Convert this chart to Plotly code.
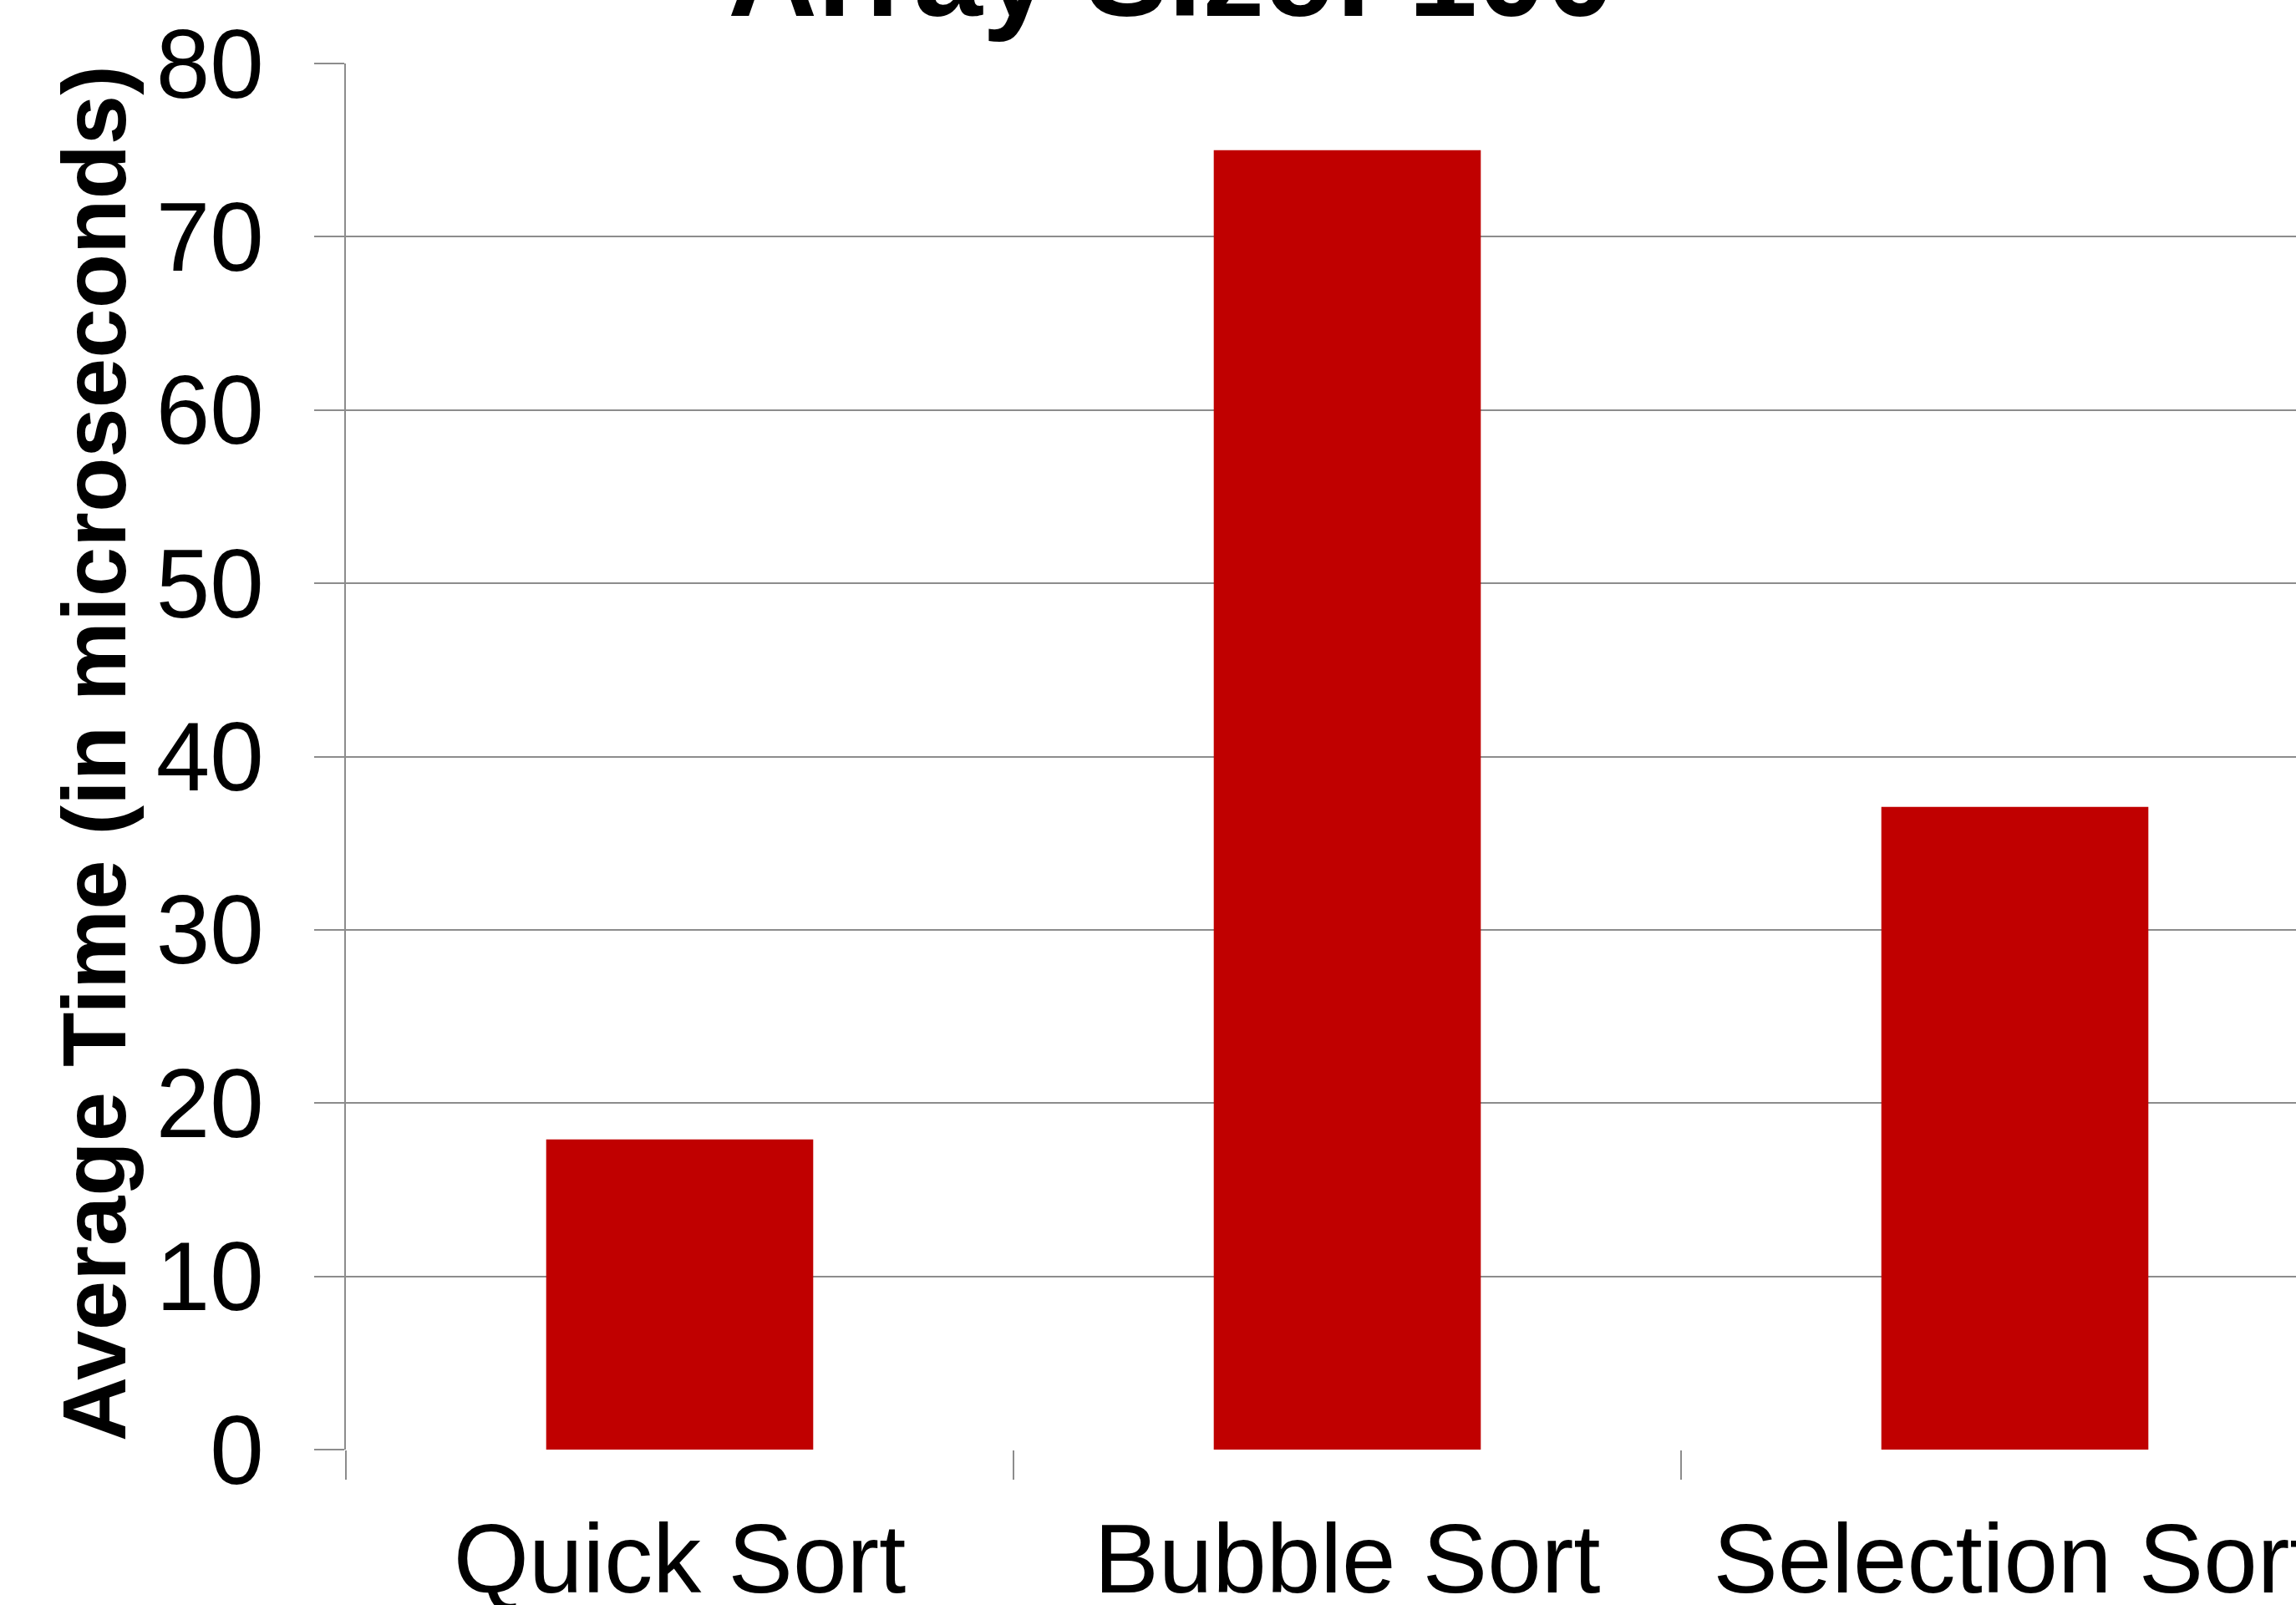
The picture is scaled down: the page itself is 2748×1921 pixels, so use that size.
import plotly.graph_objects as go

# Sorting benchmark: average time for arrays of 100 elements
algorithms = ["Quick Sort", "Bubble Sort", "Selection Sort"]
avg_time_us = [17.9, 75.0, 37.1]
y_ticks = [0, 10, 20, 30, 40, 50, 60, 70, 80]

W, H = 2748, 1921
M_L, M_R, M_T, M_B = 414, 0, 76, 186
plot_w = W - M_L - M_R
plot_h = H - M_T - M_B

FONT = "Liberation Sans, Arial, sans-serif"
GRID = "#8c8c8c"
BAR = "#c00000"

# category slot width in pixels (the chart continues beyond the right edge)
slot_px = 799
x_max = -0.5 + plot_w / slot_px

fig = go.Figure(
    go.Bar(
        x=algorithms,
        y=avg_time_us,
        width=0.4,
        marker=dict(color=BAR, line=dict(width=0)),
    )
)

fig.update_layout(
    width=W,
    height=H,
    margin=dict(l=M_L, r=M_R, t=M_T, b=M_B, pad=0, autoexpand=False),
    paper_bgcolor="white",
    plot_bgcolor="white",
    showlegend=False,
    font=dict(family=FONT, color="black"),
    title=dict(
        text="<b>Array Size: 100</b>",
        font=dict(family=FONT, size=148, color="black"),
        xref="container",
        x=1402 / W,
        xanchor="center",
        yref="container",
        y=1 - 19 / H,
        yanchor="bottom",
    ),
    xaxis=dict(
        type="category",
        range=[-0.5, x_max],
        automargin=False,
        showgrid=False,
        showline=False,
        zeroline=False,
        ticks="outside",
        tickson="boundaries",
        ticklen=35,
        tickwidth=2,
        tickcolor=GRID,
        tickfont=dict(family=FONT, size=116, color="black"),
        ticklabelstandoff=54,
    ),
    yaxis=dict(
        range=[0, 80],
        tickvals=y_ticks,
        automargin=False,
        showgrid=True,
        gridcolor=GRID,
        gridwidth=2,
        showline=True,
        linecolor=GRID,
        linewidth=2,
        zeroline=False,
        ticks="outside",
        ticklen=36,
        tickwidth=2,
        tickcolor=GRID,
        tickfont=dict(family=FONT, size=116, color="black"),
        ticklabelstandoff=37,
    ),
    annotations=[
        dict(
            text="<b>Average Time (in microseconds)</b>",
            textangle=-90,
            font=dict(family=FONT, size=107, color="black"),
            xref="paper",
            yref="paper",
            x=(113 - M_L) / plot_w,
            y=0.502,
            xanchor="center",
            yanchor="middle",
            showarrow=False,
        )
    ],
)

fig.write_html("out.html")
